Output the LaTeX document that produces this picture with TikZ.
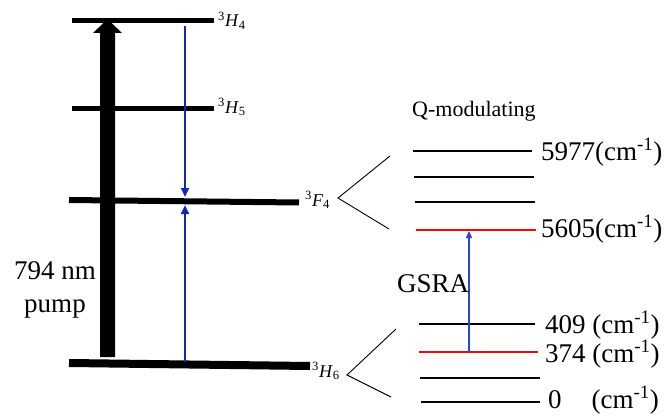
\documentclass[tikz,border=0pt]{standalone}
\usepackage{fontspec}
\setmainfont{Liberation Serif}
\usetikzlibrary{arrows.meta}
\definecolor{trblue}{RGB}{16,40,180}
\definecolor{gsrablue}{RGB}{40,70,210}
\definecolor{lvlred}{RGB}{240,10,10}
\begin{document}
\begin{tikzpicture}[x=1pt,y=-1pt,
  lvlA/.style={line width=5pt},
  lvlB/.style={line width=6pt},
  lvlC/.style={line width=8pt},
  sublvl/.style={line width=2.6pt},
  redlvl/.style={line width=2.6pt, draw=lvlred},
  brk/.style={line width=0.9pt},
  trans/.style={draw=trblue, line width=2.3pt, -{Triangle[width=8pt,length=9pt]}},
  gsra/.style={draw=gsrablue, line width=1.4pt, -{Triangle[width=6pt,length=7pt]}},
  term/.style={font=\fontsize{18}{20}\selectfont, inner sep=0pt, anchor=base west},
  big/.style={font=\fontsize{27}{33}\selectfont, inner sep=0pt},
  qmod/.style={font=\fontsize{22}{26}\selectfont, inner sep=0pt, anchor=base west}]
\useasboundingbox (0,0) rectangle (664,420);

% ---- left manifold levels
\coordinate (h4a) at (72,21);   \coordinate (h4b) at (214,21);
\coordinate (h5a) at (72,108.5); \coordinate (h5b) at (214,108.5);
\coordinate (f4a) at (69,200);  \coordinate (f4b) at (299,202.5);
\coordinate (h6a) at (69,363);  \coordinate (h6b) at (310,366);
\draw[lvlA] (h4a) -- (h4b);
\draw[lvlA] (h5a) -- (h5b);
\draw[lvlB] (f4a) -- (f4b);
\draw[lvlC] (h6a) -- (h6b);

\node[term] (lh4) at (218,27) {\textsuperscript{3}\textit{H}\textsubscript{4}};
\node[term] (lh5) at (218,113) {\textsuperscript{3}\textit{H}\textsubscript{5}};
\node[term] (lf4) at (305,206) {\textsuperscript{3}\textit{F}\textsubscript{4}};
\node[term] (lh6) at (312,377) {\textsuperscript{3}\textit{H}\textsubscript{6}};

% ---- pump arrow
\coordinate (pb) at (107.5,357);
\fill (pb) ++(-7.5,0) -- ++(0,-324) -- ++(-7,0) -- ++(10.5,-10) -- ++(8,0)
  -- ++(10.5,10) -- ++(-7,0) -- ++(0,324) -- cycle;
\node[big, align=center] (pump) at (55,290) {794 nm\\pump};

% ---- blue transitions
\coordinate (d1) at (185,26);  \coordinate (d2) at (185,197);
\coordinate (u1) at (185,362); \coordinate (u2) at (185,205);
\draw[trans] (d1) -- (d2);
\draw[trans] (u1) -- (u2);

% ---- right: Stark levels
\node[qmod] (qm) at (412,116) {Q-modulating};
\coordinate (s1a) at (413,151); \coordinate (s1b) at (532,151);
\coordinate (s2a) at (414,177); \coordinate (s2b) at (534,177);
\coordinate (s3a) at (415,202); \coordinate (s3b) at (535,202);
\coordinate (s4a) at (416,230); \coordinate (s4b) at (536,230);
\coordinate (g1a) at (419,324); \coordinate (g1b) at (535,324);
\coordinate (g2a) at (419,352); \coordinate (g2b) at (538,352);
\coordinate (g3a) at (420,378); \coordinate (g3b) at (540,378);
\coordinate (g4a) at (421,402); \coordinate (g4b) at (540,402);
\draw[sublvl] (s1a) -- (s1b);
\draw[sublvl] (s2a) -- (s2b);
\draw[sublvl] (s3a) -- (s3b);
\draw[redlvl] (s4a) -- (s4b);
\draw[sublvl] (g1a) -- (g1b);
\draw[redlvl] (g2a) -- (g2b);
\draw[sublvl] (g3a) -- (g3b);
\draw[sublvl] (g4a) -- (g4b);

\node[big, anchor=base west] (e1) at (541,160) {5977(cm\textsuperscript{-1})};
\node[big, anchor=base west] (e2) at (541,237) {5605(cm\textsuperscript{-1})};
\node[big, anchor=base west] (e3) at (545,333) {409 (cm\textsuperscript{-1})};
\node[big, anchor=base west] (e4) at (545,362) {374 (cm\textsuperscript{-1})};
\node[big, anchor=base west] (e5) at (548,408) {0\hspace{30pt}(cm\textsuperscript{-1})};

% ---- GSRA
\coordinate (ga) at (469,352); \coordinate (gb) at (469,231);
\draw[gsra] (ga) -- (gb);
\node[big, anchor=base west] (gl) at (397,292) {GSRA};

% ---- brackets
\coordinate (bf1) at (390,156); \coordinate (bf0) at (338,198); \coordinate (bf2) at (389,229);
\coordinate (bh1) at (396,329); \coordinate (bh0) at (347,375); \coordinate (bh2) at (391,397);
\draw[brk] (bf1) -- (bf0) -- (bf2);
\draw[brk] (bh1) -- (bh0) -- (bh2);
\end{tikzpicture}
\end{document}
